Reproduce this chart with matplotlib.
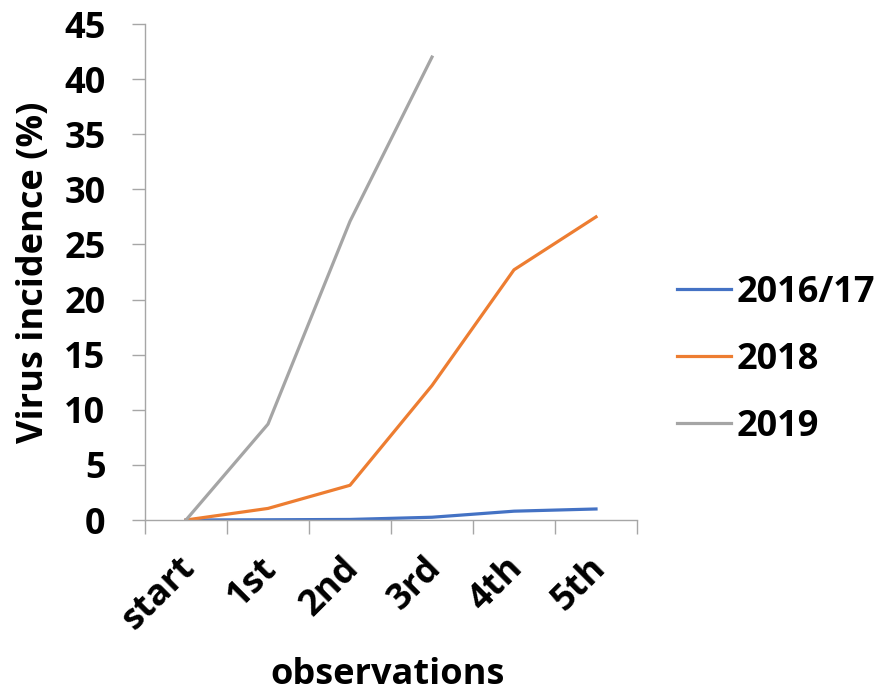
import matplotlib.pyplot as plt
import matplotlib.transforms as mtransforms
import numpy as np

plt.rcParams['font.family'] = ['Open Sans', 'DejaVu Sans']
plt.rcParams['font.weight'] = 'bold'

observations = ["start", "1st", "2nd", "3rd", "4th", "5th"]
season_1617 = [0, 0.02, 0.05, 0.25, 0.8, 1.0]
season_2018 = [0, 1.05, 3.15, 12.2, 22.7, 27.5]
season_2019 = [0, 8.7, 27.1, 42.0]

colors = {"2016/17": "#4472C4", "2018": "#ED7D31", "2019": "#A5A5A5"}
axis_grey = "#A6A6A6"
fs = 26

fig = plt.figure(figsize=(8.85, 6.94), dpi=100)
ax = fig.add_axes([145 / 885, 1 - 520 / 694, (637 - 145) / 885, (520 - 24) / 694])

x = np.arange(len(observations))
ax.plot(x, season_1617, color=colors["2016/17"], lw=2.3, label="2016/17")
ax.plot(x, season_2018, color=colors["2018"], lw=2.3, label="2018")
ax.plot(x[:len(season_2019)], season_2019, color=colors["2019"], lw=2.3, label="2019")

ax.set_xlim(-0.5, len(observations) - 0.5)
ax.set_ylim(0, 45)
ax.set_yticks(range(0, 46, 5))
ax.set_xticks(x)
ax.set_xticklabels(observations, rotation=45, ha="right", va="center",
                   rotation_mode="anchor")
ax.set_xticks(np.arange(-0.5, len(observations)), minor=True)
ax.tick_params(axis="x", which="major", length=0, labelsize=fs, pad=31)
ax.tick_params(axis="x", which="minor", length=10, width=1, color=axis_grey)
ax.tick_params(axis="y", length=9.5, width=1, color=axis_grey, labelsize=fs, pad=19)

# nudge the slanted labels a little to the right of their category
shift = mtransforms.ScaledTranslation(4 / 100, 0, fig.dpi_scale_trans)
for lbl in ax.get_xticklabels():
    lbl.set_transform(lbl.get_transform() + shift)

for side in ["top", "right"]:
    ax.spines[side].set_visible(False)
for side in ["left", "bottom"]:
    ax.spines[side].set_color(axis_grey)
    ax.spines[side].set_linewidth(1)

ax.set_ylabel("Virus incidence (%)", fontsize=fs, fontweight="bold")
ax.yaxis.set_label_coords(-0.19, 0.5)
ax.set_xlabel("observations", fontsize=fs, fontweight="bold")
ax.xaxis.set_label_coords(0.494, -0.276)

fig.legend(loc="center left", bbox_to_anchor=(677 / 885, 1 - 360 / 694),
           frameon=False, fontsize=fs, handlelength=1.5, handletextpad=0.15,
           labelspacing=0.86, borderpad=0, borderaxespad=0)

fig.savefig("out.png", dpi=100)
